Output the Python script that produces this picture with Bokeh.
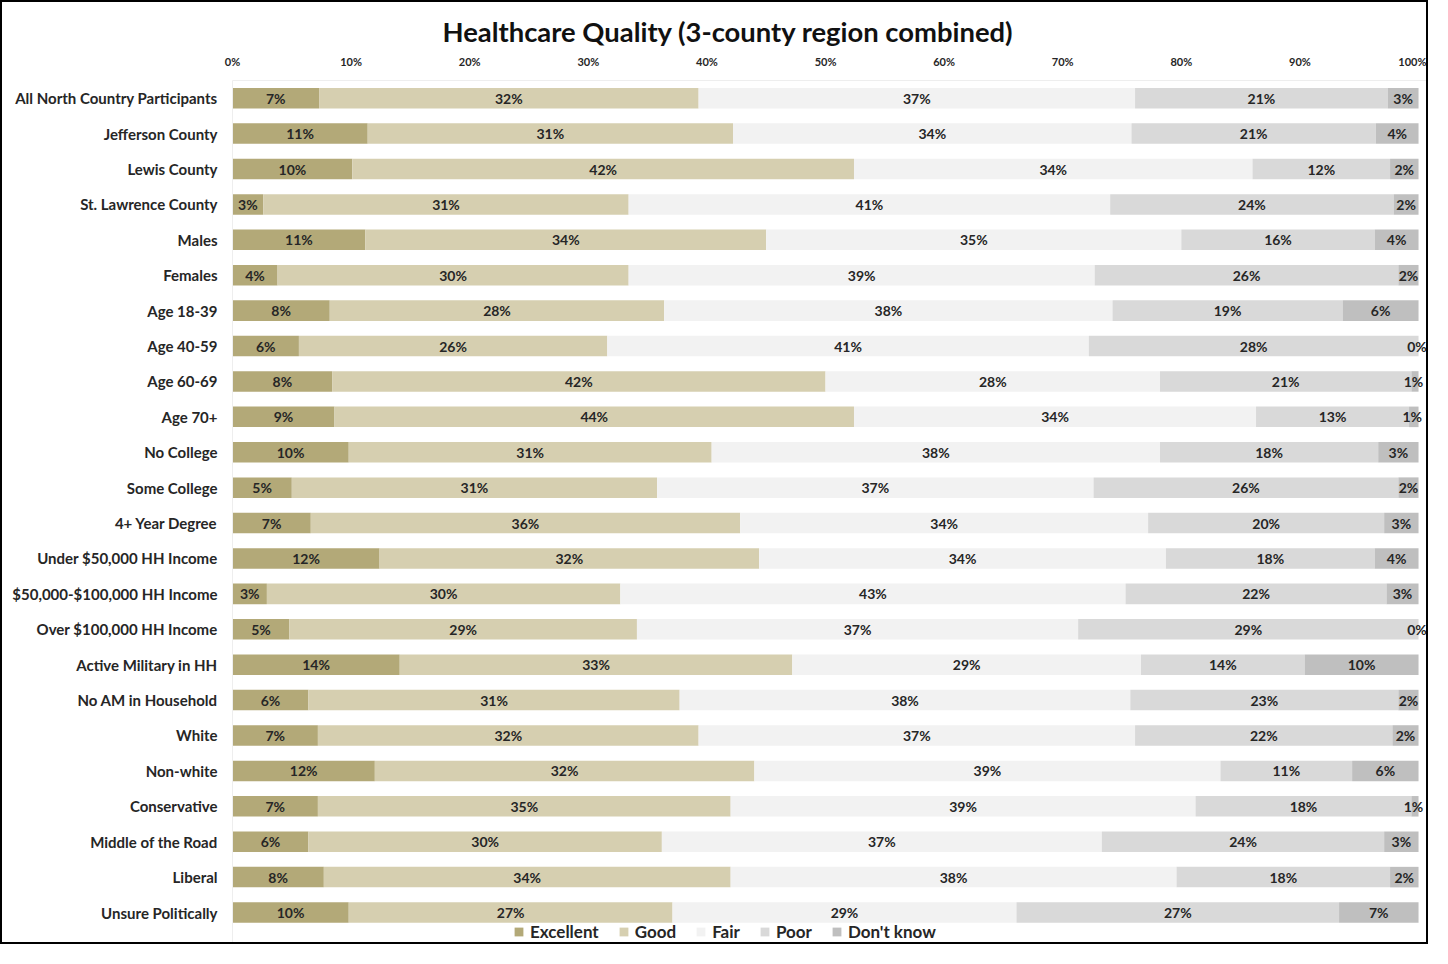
import numpy as np
from bokeh.plotting import figure
from bokeh.models import (ColumnDataSource, Range1d, PrintfTickFormatter, FixedTicker,
                          Legend, LegendItem, LabelSet)
from bokeh.core.properties import value
from bokeh.embed import file_html
from bokeh.resources import INLINE

categories = [
    "All North Country Participants", "Jefferson County", "Lewis County", "St. Lawrence County",
    "Males", "Females", "Age 18-39", "Age 40-59", "Age 60-69", "Age 70+",
    "No College", "Some College", "4+ Year Degree", "Under $50,000 HH Income",
    "$50,000-$100,000 HH Income", "Over $100,000 HH Income", "Active Military in HH",
    "No AM in Household", "White", "Non-white", "Conservative", "Middle of the Road",
    "Liberal", "Unsure Politically",
]
excellent = [7.3, 11.4, 10.1, 2.6, 11.2, 3.8, 8.2, 5.6, 8.4, 8.6, 9.8, 5.0, 6.6, 12.4,
             2.9, 4.8, 14.1, 6.4, 7.2, 12.0, 7.2, 6.4, 7.7, 9.8]
good = [32.0, 30.8, 42.3, 30.8, 33.8, 29.6, 28.2, 26.0, 41.6, 43.8, 30.6, 30.8, 36.2, 32.0,
        29.8, 29.3, 33.1, 31.3, 32.1, 32.0, 34.8, 29.8, 34.3, 27.3]
fair = [36.8, 33.6, 33.6, 40.6, 35.0, 39.3, 37.8, 40.6, 28.2, 33.9, 37.8, 36.8, 34.4, 34.3,
        42.6, 37.2, 29.4, 38.0, 36.8, 39.3, 39.2, 37.1, 37.6, 29.0]
poor = [21.3, 20.6, 11.6, 23.9, 16.3, 25.6, 19.4, 27.8, 21.2, 12.9, 18.4, 25.7, 19.9, 17.6,
        22.0, 28.7, 13.8, 22.6, 21.7, 11.1, 18.2, 23.8, 18.0, 27.2]
dont_know = [2.6, 3.6, 2.4, 2.1, 3.7, 1.7, 6.4, 0.0, 0.6, 0.8, 3.4, 1.7, 2.9, 3.7,
             2.7, 0.0, 9.6, 1.7, 2.2, 5.6, 0.6, 2.9, 2.4, 6.7]
series_names = ["Excellent", "Good", "Fair", "Poor", "Don't know"]
x_ticks = [0, 10, 20, 30, 40, 50, 60, 70, 80, 90, 100]

colors = ["#b3a978", "#d6cfb0", "#f2f2f2", "#d9d9d9", "#bfbfbf"]
keys = ["excellent", "good", "fair", "poor", "dk"]
FONT = "Lato"

rows = list(range(len(categories)))
src = ColumnDataSource(dict(row=rows, excellent=excellent, good=good, fair=fair,
                            poor=poor, dk=dont_know))

p = figure(width=1428, height=944, output_backend="svg", toolbar_location=None,
           y_range=Range1d(len(categories) - 0.5 + 0.46, -0.5), x_range=Range1d(0, 100.84),
           x_axis_location="above", min_border_left=230, min_border_right=2,
           min_border_top=78, min_border_bottom=0)
p.styles = {"border": "2px solid black"}

renderers = p.hbar_stack(keys, y="row", height=0.58, source=src, color=colors, line_color=None)

# value labels
all_vals = np.array([excellent, good, fair, poor, dont_know])
cum = np.cumsum(all_vals, axis=0)
mids = cum - all_vals / 2
lx, ly, lt, lo = [], [], [], []
for s in range(all_vals.shape[0]):
    for i in rows:
        lx.append(mids[s, i]); ly.append(i); lt.append(f"{round(all_vals[s, i])}%")
        lo.append(-1.5 if mids[s, i] > 99.4 else 0.0)
lsrc = ColumnDataSource(dict(x=lx, y=ly, t=lt, o=lo))
labels = LabelSet(x="x", y="y", text="t", x_offset="o", source=lsrc, text_align="center",
                  text_baseline="middle", text_font=value(FONT), text_font_style="bold",
                  text_font_size="14px", text_color="#262626")
p.add_layout(labels)

p.xgrid.visible = False
p.ygrid.visible = False
p.outline_line_color = None

xa = p.xaxis[0]
xa.ticker = FixedTicker(ticks=x_ticks)
xa.formatter = PrintfTickFormatter(format="%d%%")
xa.major_tick_line_color = None
xa.minor_tick_line_color = None
xa.axis_line_color = "#eeeeee"
xa.major_label_text_font = FONT
xa.major_label_text_font_style = "bold"
xa.major_label_text_font_size = "11px"
xa.major_label_text_color = "#262626"
xa.major_label_standoff = 7

ya = p.yaxis[0]
ya.ticker = FixedTicker(ticks=rows)
ya.major_label_overrides = {i: c for i, c in zip(rows, categories)}
ya.major_tick_line_color = None
ya.minor_tick_line_color = None
ya.axis_line_color = "#eeeeee"
ya.major_label_text_font = FONT
ya.major_label_text_font_style = "bold"
ya.major_label_text_font_size = "15px"
ya.major_label_text_color = "#262626"
ya.major_label_standoff = 9

p.title.text = "Healthcare Quality (3-county region combined)"
p.title.text_font = FONT
p.title.text_font_size = "27.4px"
p.title.text_font_style = "bold"
p.title.text_color = "#111111"
p.title.align = "left"
p.title.offset = 210
p.title.standoff = 8

legend = Legend(items=[LegendItem(label=n, renderers=[r]) for n, r in zip(series_names, renderers)],
                orientation="horizontal", location=(281, 4), glyph_width=11, glyph_height=11,
                label_standoff=6, spacing=19, padding=0, margin=0, border_line_color=None,
                background_fill_alpha=0, label_text_font=FONT, label_text_font_style="bold",
                label_text_font_size="17px", label_text_color="#262626")
p.add_layout(legend, "center")

open("out.html", "w").write(file_html(p, INLINE))
